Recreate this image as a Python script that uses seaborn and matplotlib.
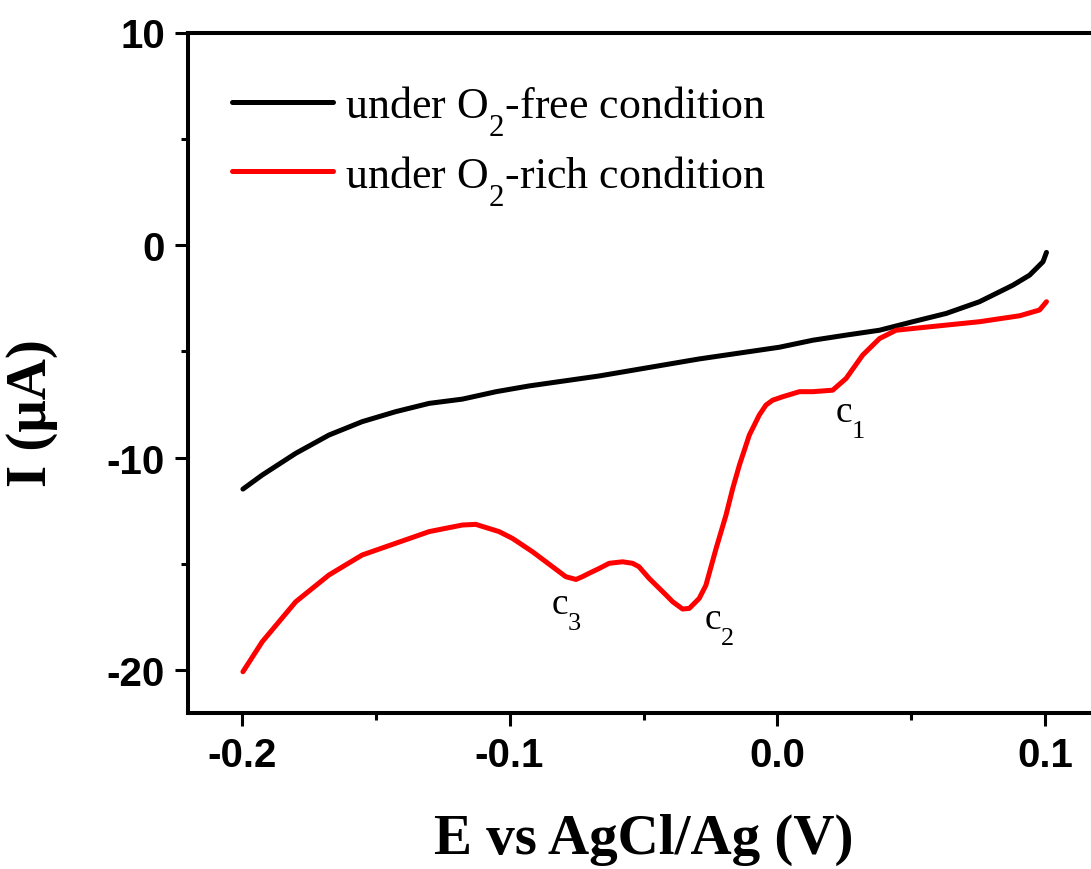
import numpy as np
import pandas as pd
import matplotlib
matplotlib.use("Agg")
import matplotlib.pyplot as plt
import matplotlib._mathtext as mathtext_internal
from matplotlib.ticker import MultipleLocator, FixedLocator, FixedFormatter
import seaborn as sns

# Linear sweep voltammograms: potential (V vs AgCl/Ag) and current (uA)
e_free = [-0.1995, -0.1923, -0.1798, -0.1674, -0.155, -0.1425, -0.130, -0.1176,
          -0.105, -0.0927, -0.0665, -0.0292, 0.0007, 0.0132, 0.0256, 0.0381,
          0.0505, 0.063, 0.0754, 0.0879, 0.0941, 0.0991, 0.1004]
i_free = [-11.47, -10.81, -9.79, -8.93, -8.30, -7.83, -7.44, -7.24,
          -6.89, -6.62, -6.15, -5.35, -4.80, -4.47, -4.23, -4.00,
          -3.60, -3.21, -2.66, -1.88, -1.41, -0.78, -0.34]

e_rich = [-0.1995, -0.1923, -0.1798, -0.1674, -0.155, -0.1425, -0.130, -0.1176,
          -0.1126, -0.1039, -0.0989, -0.0914, -0.079, -0.0752, -0.0728, -0.0703,
          -0.0665, -0.0628, -0.0578, -0.0541, -0.0517, -0.0479, -0.0416, -0.0391,
          -0.0354, -0.0329, -0.0292, -0.0267, -0.0229, -0.0192, -0.0167, -0.0142,
          -0.0105, -0.0068, -0.0043, -0.0018, 0.0019, 0.0082, 0.0132, 0.0206,
          0.0256, 0.0318, 0.0381, 0.0443, 0.0567, 0.0754, 0.0904, 0.0978, 0.1004]
i_rich = [-20.06, -18.65, -16.77, -15.51, -14.57, -14.02, -13.47, -13.16,
          -13.13, -13.47, -13.79, -14.42, -15.59, -15.72, -15.59, -15.43,
          -15.20, -14.96, -14.89, -14.96, -15.12, -15.67, -16.45, -16.77,
          -17.11, -17.08, -16.61, -15.99, -14.26, -12.69, -11.44, -10.34,
          -8.93, -7.99, -7.52, -7.29, -7.13, -6.89, -6.89, -6.82,
          -6.27, -5.17, -4.39, -4.00, -3.84, -3.60, -3.32, -3.05, -2.66]

series_labels = ["under O$_2$-free condition", "under O$_2$-rich condition"]
series_colors = ["#000000", "#ff0000"]

peak_names = ["c$_1$", "c$_2$", "c$_3$"]
peak_e = [0.0213, -0.0273, -0.0845]
peak_i = [-8.29, -18.02, -17.32]

x_major = [-0.2, -0.1, 0.0, 0.1]
x_major_labels = ["-0.2", "-0.1", "0.0", "0.1"]
y_major = [-20, -10, 0, 10]
y_major_labels = ["-20", "-10", "0", "10"]

sns.set_theme(style="ticks")
plt.rcParams["font.family"] = ["Liberation Serif", "DejaVu Serif"]
plt.rcParams["mathtext.fontset"] = "custom"
plt.rcParams["mathtext.rm"] = "Liberation Serif"
plt.rcParams["mathtext.it"] = "Liberation Serif:italic"
plt.rcParams["mathtext.bf"] = "Liberation Serif:bold"
plt.rcParams["axes.unicode_minus"] = False
for key in ["text.color", "axes.labelcolor", "xtick.color", "ytick.color",
            "axes.edgecolor"]:
    plt.rcParams[key] = "black"

# Deeper subscript drop, as in typeset chemical formulas
mathtext_internal.FontConstantsBase.sub1 = 0.9
mathtext_internal.FontConstantsBase.sub2 = 0.9

fig = plt.figure(figsize=(10.91, 8.70), dpi=100)
ax = fig.add_axes([188 / 1091, 156 / 870, 911 / 1091, 680.5 / 870])

df_free = pd.DataFrame({"E": e_free, "I": i_free})
df_rich = pd.DataFrame({"E": e_rich, "I": i_rich})
sns.lineplot(data=df_free, x="E", y="I", color=series_colors[0], lw=3.6,
             label=series_labels[0], ax=ax, estimator=None)
sns.lineplot(data=df_rich, x="E", y="I", color=series_colors[1], lw=3.6,
             label=series_labels[1], ax=ax, estimator=None)

ax.set_xlim(-0.22, 0.12)
ax.set_ylim(-22, 10)

ax.xaxis.set_major_locator(FixedLocator(x_major))
ax.xaxis.set_major_formatter(FixedFormatter(x_major_labels))
ax.xaxis.set_minor_locator(MultipleLocator(0.05))
ax.yaxis.set_major_locator(FixedLocator(y_major))
ax.yaxis.set_major_formatter(FixedFormatter(y_major_labels))
ax.yaxis.set_minor_locator(MultipleLocator(5))

for sp in ax.spines.values():
    sp.set_linewidth(2.9)
    sp.set_color("black")

ax.tick_params(which="major", direction="out", length=9.5, width=2.2,
               color="black", pad=7, top=False, right=False)
ax.tick_params(which="minor", direction="out", length=5, width=2.2,
               color="black", top=False, right=False)
for lab in ax.get_xticklabels() + ax.get_yticklabels():
    lab.set_fontfamily("Liberation Sans")
    lab.set_fontweight("bold")
    lab.set_fontsize(29)
    lab.set_color("black")

ax.set_xlabel("E vs AgCl/Ag (V)", fontsize=41, fontweight="bold",
              fontfamily="Liberation Serif", labelpad=28, color="black")
ax.set_ylabel("I (\u03bcA)", fontsize=41, fontweight="bold",
              fontfamily="Liberation Serif", color="black")
ax.yaxis.set_label_coords(-0.143, 0.442)

for name, xe, yi in zip(peak_names, peak_e, peak_i):
    ax.text(xe, yi, name, fontsize=27, ha="left", va="baseline",
            fontfamily="Liberation Serif", color="black")

leg = ax.legend(loc="upper left", bbox_to_anchor=(0.0286, 0.951), frameon=False,
                fontsize=31.7, handlelength=2.3, handletextpad=0.27,
                labelspacing=0.35, borderaxespad=0)
for line in leg.get_lines():
    line.set_linewidth(3.6)
for t in leg.get_texts():
    t.set_color("black")

fig.savefig("out.png", dpi=100)
